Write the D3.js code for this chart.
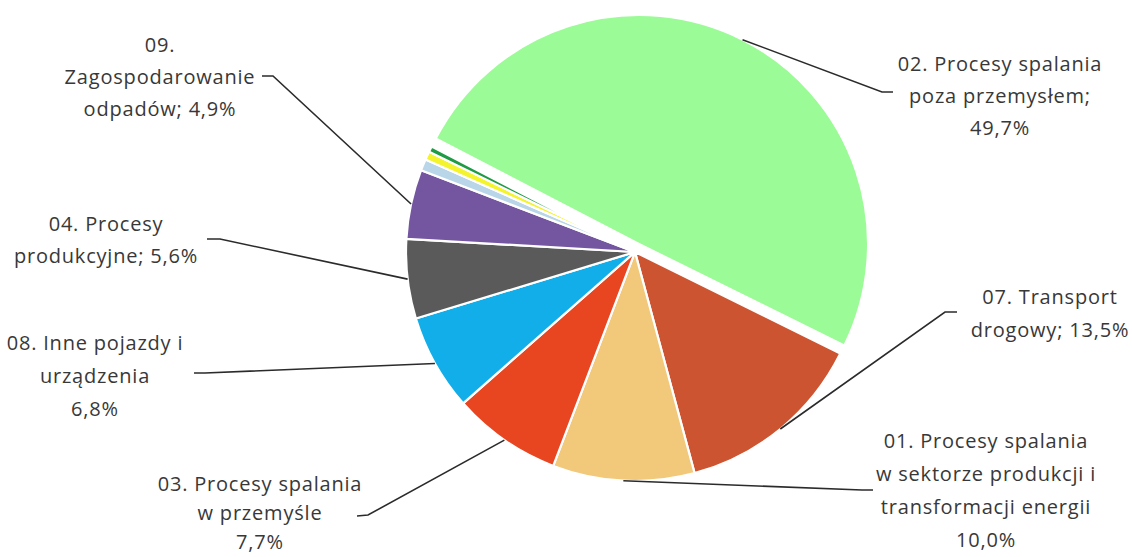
<!DOCTYPE html>
<html>
<head>
<meta charset="utf-8">
<script src="https://cdn.jsdelivr.net/npm/d3@7"></script>
<style>
  html, body { margin: 0; padding: 0; background: #ffffff; }
  svg { display: block; }
</style>
</head>
<body>
<svg id="chart" width="1132" height="557"></svg>
<script>
// ---- data ----
const categories = [
  "02. Procesy spalania poza przemysłem",
  "07. Transport drogowy",
  "01. Procesy spalania w sektorze produkcji i transformacji energii",
  "03. Procesy spalania w przemyśle",
  "08. Inne pojazdy i urządzenia",
  "04. Procesy produkcyjne",
  "09. Zagospodarowanie odpadów",
  "10. Rolnictwo",
  "05. Wydobycie i dystrybucja paliw",
  "06. Zastosowanie rozpuszczalników"
];
const values = [49.7, 13.5, 10.0, 7.7, 6.8, 5.6, 4.9, 0.8, 0.6, 0.4];
const colors = ["#9bfb96", "#cc5431", "#f2c87a", "#e84521", "#12aeea", "#5a5a5a", "#7456a0", "#b8d6e8", "#f3f32e", "#1f9b45"];
const labelLines = [
  ["02. Procesy spalania", "poza przemysłem;", "49,7%"],
  ["07. Transport", "drogowy; 13,5%"],
  ["01. Procesy spalania", "w sektorze produkcji i", "transformacji energii", "10,0%"],
  ["03. Procesy spalania", "w przemyśle", "7,7%"],
  ["08. Inne pojazdy i", "urządzenia", "6,8%"],
  ["04. Procesy", "produkcyjne; 5,6%"],
  ["09.", "Zagospodarowanie", "odpadów; 4,9%"],
  null, null, null
];

// ---- layout ----
const cx = 635, cy = 252, R = 229;
const explode = [9, 0, 0, 0, 0, 0, 0, 0, 0, 0];
const startDeg = -62.6;
// label centre (x, first line y), line gap and leader elbow/end points
const labelLayout = [
  {x: 1000, y: 64,  gap: 32, elbow: [882, 92],  end: [893, 92]},
  {x: 1050, y: 297, gap: 33, elbow: [945, 312], end: [957, 312]},
  {x: 986,  y: 441, gap: 33, elbow: [862, 490], end: [873, 490]},
  {x: 260,  y: 484, gap: 29, elbow: [368, 515], end: [357, 516]},
  {x: 95,   y: 343, gap: 33, elbow: [205, 373], end: [194, 373]},
  {x: 106,  y: 224, gap: 32, elbow: [220, 239], end: [207, 239]},
  {x: 160,  y: 45,  gap: 32, elbow: [273, 76],  end: [262, 76]},
  null, null, null
];

const svg = d3.select("#chart");
const pie = d3.pie().sort(null).value(d => d)
  .startAngle(startDeg * Math.PI / 180)
  .endAngle(startDeg * Math.PI / 180 + 2 * Math.PI);
const arcs = pie(values);
const arc = d3.arc().innerRadius(0).outerRadius(R);
const edgeArc = d3.arc().innerRadius(R).outerRadius(R);

const g = svg.append("g").attr("transform", `translate(${cx},${cy})`);

g.selectAll("path.slice")
  .data(arcs)
  .join("path")
  .attr("class", "slice")
  .attr("d", arc)
  .attr("fill", (d, i) => colors[i])
  .attr("stroke", "#ffffff")
  .attr("stroke-width", 2.2)
  .attr("stroke-linejoin", "round")
  .attr("transform", (d, i) => {
    const a = (d.startAngle + d.endAngle) / 2;
    return `translate(${explode[i] * Math.sin(a)},${-explode[i] * Math.cos(a)})`;
  });

// leader lines and labels
arcs.forEach((d, i) => {
  const L = labelLayout[i];
  if (!L) return;
  const a = (d.startAngle + d.endAngle) / 2;
  const ox = explode[i] * Math.sin(a), oy = -explode[i] * Math.cos(a);
  const p = edgeArc.centroid(d);
  const start = [cx + p[0] + ox, cy + p[1] + oy];
  svg.append("path")
    .attr("d", d3.line()([start, L.elbow, L.end]))
    .attr("fill", "none")
    .attr("stroke", "#2b2b2b")
    .attr("stroke-width", 1.6);
  const t = svg.append("text")
    .attr("text-anchor", "middle")
    .attr("font-family", "'Open Sans', sans-serif")
    .attr("font-size", 20)
    .attr("letter-spacing", 0.8)
    .attr("fill", "#383838");
  labelLines[i].forEach((line, k) => {
    t.append("tspan")
      .attr("x", L.x)
      .attr("y", L.y + k * L.gap)
      .attr("dy", "0.35em")
      .text(line);
  });
});
</script>
</body>
</html>
